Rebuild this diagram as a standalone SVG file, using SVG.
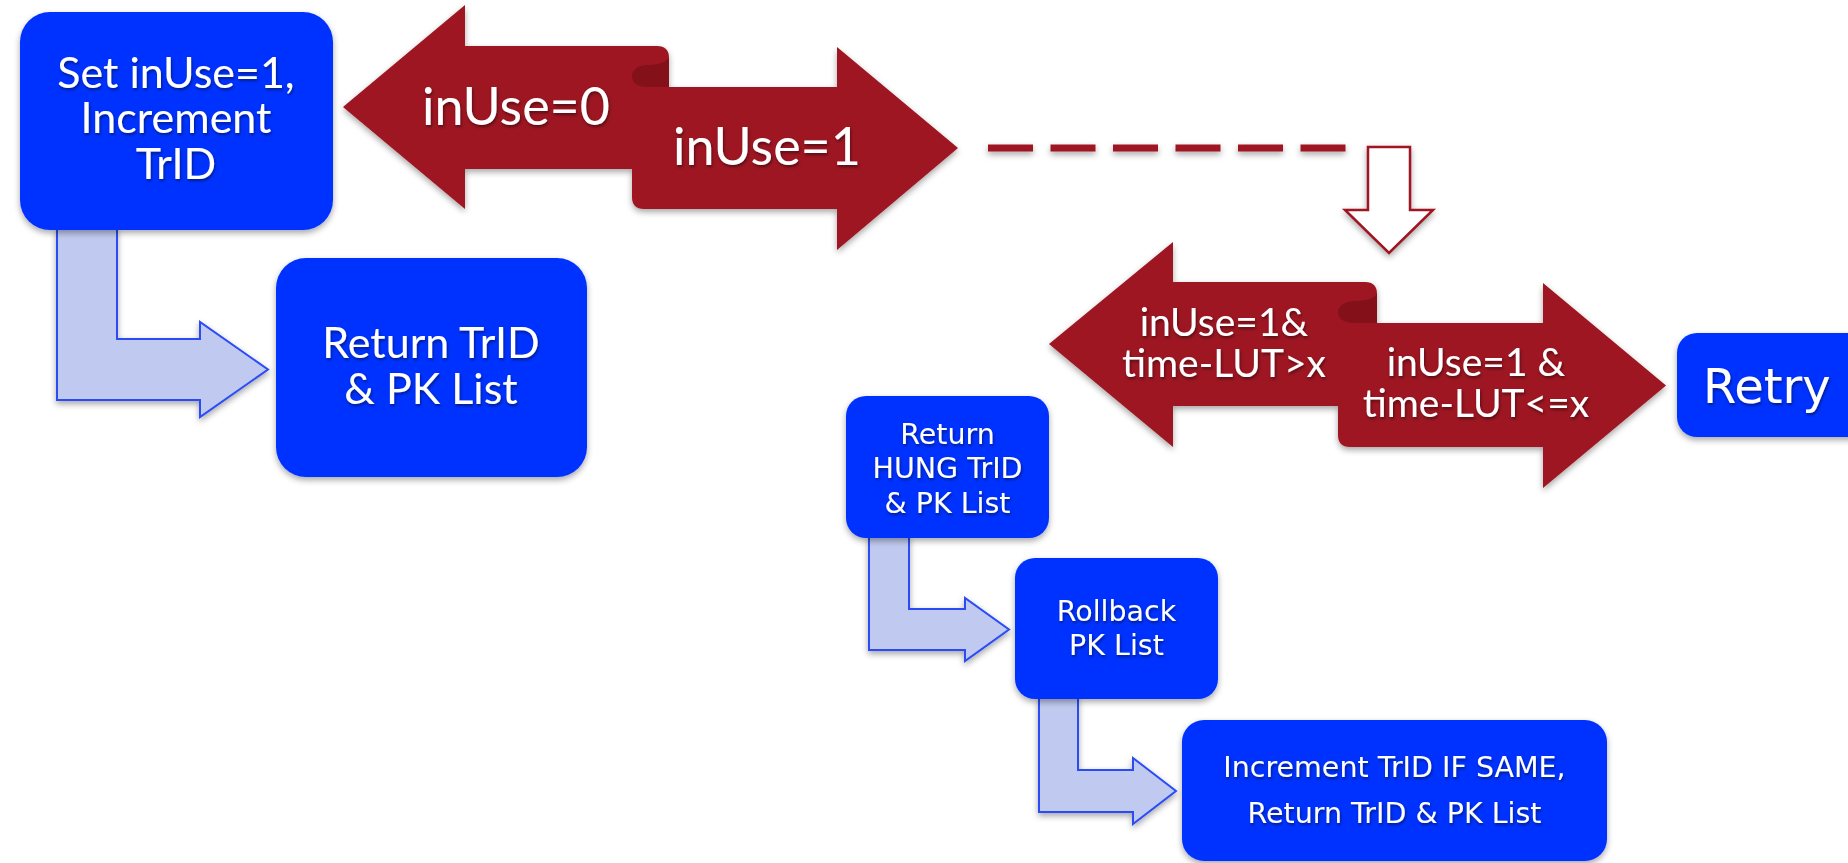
<svg xmlns="http://www.w3.org/2000/svg" width="1848" height="863" viewBox="0 0 1848 863">
  <defs>
    <filter id="shadow" x="-10%" y="-10%" width="120%" height="130%">
      <feDropShadow dx="0" dy="3" stdDeviation="3" flood-color="#000" flood-opacity="0.35"/>
    </filter>
    <!-- a zero-height line has an empty bounding box, so this one works in canvas units -->
    <filter id="lineShadow" filterUnits="userSpaceOnUse" x="960" y="120" width="420" height="60">
      <feDropShadow dx="0" dy="3" stdDeviation="3" flood-color="#000" flood-opacity="0.35"/>
    </filter>
    <filter id="txtShadow" x="-5%" y="-20%" width="110%" height="150%">
      <feDropShadow dx="1" dy="2" stdDeviation="1.5" flood-color="#000" flood-opacity="0.45"/>
    </filter>
    <style>
      .box { fill: #0433ff; filter: url(#shadow); }
      .elbow { fill: #c0c9ef; stroke: #2b4cf6; stroke-width: 2; stroke-linejoin: miter; filter: url(#shadow); }
      .ribbon { fill: #9d1520; filter: url(#shadow); }
      .curl { fill: #84111a; }
      .wide { font-family: Lato, "Open Sans", sans-serif; fill: #fff; text-anchor: middle; filter: url(#txtShadow); }
      .round { font-family: "DejaVu Sans", Verdana, sans-serif; fill: #fff; text-anchor: middle; filter: url(#txtShadow); }
      .dash { stroke: #9d1520; stroke-width: 7; stroke-dasharray: 45 17.5; fill: none; filter: url(#lineShadow); }
      .down { fill: #fff; stroke: #9d1520; stroke-width: 2.5; filter: url(#shadow); }
    </style>
  </defs>

  <rect width="1848" height="863" fill="#fff"/>

  <!-- elbow connectors between the boxes -->
  <g id="connectors">
    <polygon class="elbow" points="57,228 117,228 117,339 200,339 200,322 268,369.5 200,417 200,400 57,400"/>
    <polygon class="elbow" points="869,536 909,536 909,609 965,609 965,598 1009,629.5 965,661 965,650 869,650"/>
    <polygon class="elbow" points="1039,697 1078,697 1078,770 1133,770 1133,758 1176,791 1133,824 1133,812 1039,812"/>
    <line class="dash" x1="988" y1="148" x2="1346" y2="148"/>
    <polygon class="down" points="1368,147 1410,147 1410,210 1433,210 1389,253 1345,210 1368,210"/>
  </g>

  <!-- top ribbon: inUse=0 / inUse=1 -->
  <g id="ribbon-inuse">
    <path class="ribbon" d="M343,107 L465,5 L465,46 L657,46 Q669,46 669,58 L669,87 L837,87 L837,47 L958,148 L837,250 L837,209 L644,209 Q632,209 632,197 L632,169 L465,169 L465,209 Z"/>
    <path class="curl" d="M669,58 C664,64 655,65 647,65 C638,65 632,70 632,76 C632,83 638,87 647,87 L669,87 Z"/>
    <text class="wide" x="516" y="125" font-size="52">inUse=0</text>
    <text class="wide" x="767" y="165" font-size="52">inUse=1</text>
  </g>

  <!-- lower ribbon: timeout check -->
  <g id="ribbon-timeout">
    <path class="ribbon" d="M1049,344 L1173,242 L1173,282 L1365,282 Q1377,282 1377,294 L1377,323 L1543,323 L1543,283 L1666,385.5 L1543,488 L1543,447 L1350,447 Q1338,447 1338,435 L1338,406 L1173,406 L1173,447 Z"/>
    <path class="curl" d="M1377,294 C1372,300 1363,301 1354,301 C1345,301 1338,306 1338,312 C1338,319 1345,323 1354,323 L1377,323 Z"/>
    <text class="wide" font-size="39"><tspan x="1224" y="336">inUse=1&amp;</tspan><tspan x="1224" y="377">time-LUT&gt;x</tspan></text>
    <text class="wide" font-size="39"><tspan x="1476" y="376">inUse=1 &amp;</tspan><tspan x="1476" y="417">time-LUT&lt;=x</tspan></text>
  </g>

  <g id="node-set-inuse">
    <rect class="box" x="20" y="12" width="313" height="218" rx="30"/>
    <text class="wide" font-size="43"><tspan x="176" y="88">Set inUse=1,</tspan><tspan x="176" y="133">Increment</tspan><tspan x="176" y="179">TrID</tspan></text>
  </g>

  <g id="node-return-trid">
    <rect class="box" x="276" y="258" width="311" height="219" rx="30"/>
    <text class="wide" font-size="43"><tspan x="431" y="358">Return TrID</tspan><tspan x="431" y="404">&amp; PK List</tspan></text>
  </g>

  <g id="node-retry">
    <rect class="box" x="1677" y="333" width="200" height="104" rx="20"/>
    <text class="round" x="1703" y="403" font-size="48" style="text-anchor:start">Retry</text>
  </g>

  <g id="node-return-hung">
    <rect class="box" x="846" y="396" width="203" height="142" rx="20"/>
    <text class="round" font-size="28.5"><tspan x="947.5" y="444">Return</tspan><tspan x="947.5" y="478">HUNG TrID</tspan><tspan x="947.5" y="513">&amp; PK List</tspan></text>
  </g>

  <g id="node-rollback">
    <rect class="box" x="1015" y="558" width="203" height="141" rx="20"/>
    <text class="round" font-size="28.5"><tspan x="1116.5" y="621">Rollback</tspan><tspan x="1116.5" y="655">PK List</tspan></text>
  </g>

  <g id="node-increment">
    <rect class="box" x="1182" y="720" width="425" height="141" rx="22"/>
    <text class="round" font-size="28.5"><tspan x="1394.5" y="777">Increment TrID IF SAME,</tspan><tspan x="1394.5" y="823">Return TrID &amp; PK List</tspan></text>
  </g>
</svg>
